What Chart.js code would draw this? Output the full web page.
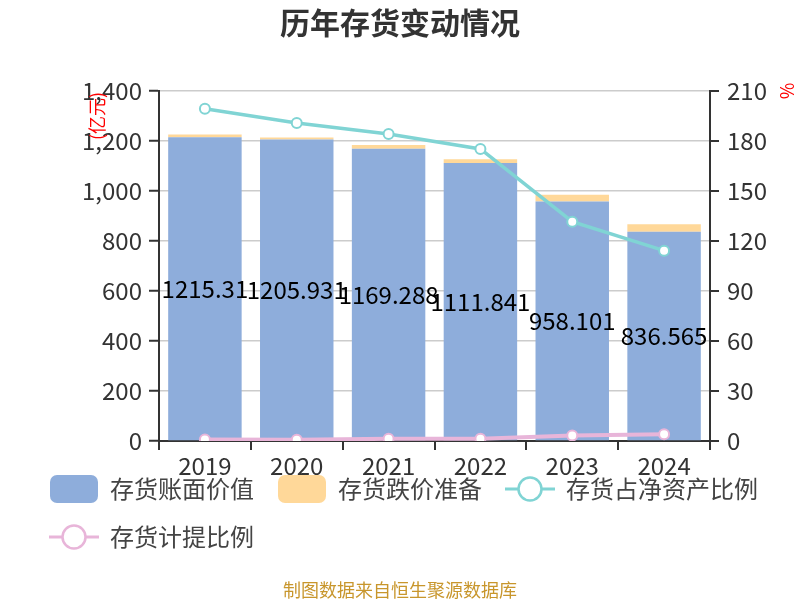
<!DOCTYPE html>
<html><head><meta charset="utf-8">
<script src="https://cdn.jsdelivr.net/npm/chart.js@4.4.1/dist/chart.umd.min.js"></script>
<style>html,body{margin:0;padding:0;background:#fff;overflow:hidden}</style>
</head><body>
<canvas id="c" width="800" height="600"></canvas>
<script>
const categories = ['2019','2020','2021','2022','2023','2024'];
const bookValue = [1215.31,1205.931,1169.288,1111.841,958.101,836.565];
const reserve = [10.7,8,14.7,14.7,26.7,30.7];
const netAssetRatio = [199.4,190.8,184.2,175.2,131.6,114.2];
const provisionRatio = [0.9,0.7,1.3,1.4,3.3,4.1];
const seriesNames = ['存货账面价值','存货跌价准备','存货占净资产比例','存货计提比例'];
const titleText = '历年存货变动情况';
const sourceText = '制图数据来自恒生聚源数据库';
const leftUnit = '(亿元)';
const rightUnit = '%';

const FONT = '"Noto Sans CJK SC","Noto Sans",sans-serif';
const BLUE = '#8eaddb', ORANGE = '#ffd899', TEAL = '#80d4d4', PINK = '#e8b5d9';

function boxIcon(color){
  const c = document.createElement('canvas'); c.width = 48; c.height = 28;
  const g = c.getContext('2d'); g.fillStyle = color;
  g.beginPath(); g.roundRect(0,0,48,28,7); g.fill(); return c;
}
function lineIcon(color){
  const c = document.createElement('canvas'); c.width = 50; c.height = 28;
  const g = c.getContext('2d'); g.strokeStyle = color; g.lineWidth = 3;
  g.beginPath(); g.moveTo(0,14); g.lineTo(50,14); g.stroke();
  g.beginPath(); g.arc(25,14,11.5,0,Math.PI*2); g.fillStyle='#fff'; g.fill();
  g.lineWidth = 2.5; g.stroke(); return c;
}
const icons = [boxIcon(BLUE), boxIcon(ORANGE), lineIcon(TEAL), lineIcon(PINK)];

const extras = {
  id: 'extras',
  afterDatasetsDraw(chart){
    const ctx = chart.ctx;
    ctx.save();
    // data labels on book value bars (dataset index 2)
    const meta = chart.getDatasetMeta(2);
    ctx.font = '24px ' + FONT; ctx.fillStyle = '#000';
    ctx.textAlign = 'center'; ctx.textBaseline = 'middle';
    meta.data.forEach((bar, i) => {
      const y = (bar.y + bar.base) / 2;
      ctx.fillText(String(bookValue[i]), bar.x, y);
    });
    ctx.restore();
  },
  afterDraw(chart){
    const ctx = chart.ctx, a = chart.chartArea, xs = chart.scales.x;
    ctx.save();
    ctx.textAlign = 'center'; ctx.textBaseline = 'middle';
    // x-axis category labels
    ctx.font = '24px ' + FONT; ctx.fillStyle = '#333';
    categories.forEach((c, i) => ctx.fillText(c, xs.getPixelForValue(i), a.bottom + 25));
    ctx.font = 'bold 30px ' + FONT; ctx.fillStyle = '#333';
    ctx.fillText(titleText, 400, 23);
    ctx.font = '18px ' + FONT; ctx.fillStyle = '#c8962c';
    ctx.fillText(sourceText, 400, 590);
    ctx.fillStyle = '#ff0000'; ctx.font = '18px ' + FONT;
    ctx.save(); ctx.translate(97, a.top + 25); ctx.rotate(-Math.PI/2);
    ctx.fillText(leftUnit, 0, 0); ctx.restore();
    ctx.save(); ctx.translate(787, a.top); ctx.rotate(-Math.PI/2);
    ctx.fillText(rightUnit, 0, 0); ctx.restore();
    ctx.restore();
  }
};

new Chart(document.getElementById('c'), {
  data: {
    labels: categories,
    datasets: [
      {type:'line', label: seriesNames[2], data: netAssetRatio, yAxisID:'y1', borderColor: TEAL, borderWidth: 3.5,
       pointRadius: 5, pointBorderWidth: 2, pointBackgroundColor:'#fff', pointBorderColor: TEAL, order: 1, tension: 0},
      {type:'line', label: seriesNames[3], data: provisionRatio, yAxisID:'y1', borderColor: PINK, borderWidth: 4,
       pointRadius: 5, pointBorderWidth: 2, pointBackgroundColor:'#fff', pointBorderColor: PINK, order: 1, tension: 0},
      {type:'bar', label: seriesNames[0], data: bookValue, yAxisID:'y', backgroundColor: BLUE, stack:'s', order: 2,
       categoryPercentage: 1, barPercentage: 0.8},
      {type:'bar', label: seriesNames[1], data: reserve, yAxisID:'y', backgroundColor: ORANGE, stack:'s', order: 2,
       categoryPercentage: 1, barPercentage: 0.8}
    ]
  },
  options: {
    responsive: false, animation: false, devicePixelRatio: 1,
    layout: { padding: { top: 91, left: 26, right: 0, bottom: 41 } },
    plugins: {
      title: {display:false}, tooltip:{enabled:false},
      legend: {
        position: 'bottom', align: 'start',
        labels: {
          usePointStyle: true, pointStyleWidth: 48, boxHeight: 24, padding: 24,
          font: { size: 24, family: FONT }, color: '#444',
          generateLabels(chart){
            return seriesNames.map((n, i) => ({
              text: n, pointStyle: icons[i], fillStyle:'#fff', strokeStyle:'#fff', lineWidth:0,
              hidden:false, datasetIndex: [2,3,0,1][i], fontColor:'#444'
            }));
          }
        }
      }
    },
    scales: {
      x: {
        stacked: true,
        grid: { drawOnChartArea: false, offset: true, tickLength: 9, color:'#333', lineWidth: 2 },
        border: { color:'#333', width: 2 },
        ticks: { display: false },
        afterFit(s){ s.height = 12; }
      },
      y: {
        stacked: true, position:'left', min: 0, max: 1400,
        ticks: { stepSize: 200, font:{ size: 24, family: FONT }, color:'#333', padding: 7,
          callback: v => v.toLocaleString('en-US') },
        grid: { color:'#cccccc', lineWidth: 1.5, tickLength: 10, tickColor:'#333', tickWidth: 2 },
        border: { color:'#333', width: 2 },
        afterFit(s){ s.width = 133; }
      },
      y1: {
        position:'right', min: 0, max: 210,
        ticks: { stepSize: 30, font:{ size: 24, family: FONT }, color:'#333', padding: 8 },
        grid: { drawOnChartArea: false, tickLength: 9, color:'#333', lineWidth: 2 },
        border: { color:'#333', width: 2 },
        afterFit(s){ s.width = 90; }
      }
    }
  },
  plugins: [extras]
});
</script>
</body></html>
